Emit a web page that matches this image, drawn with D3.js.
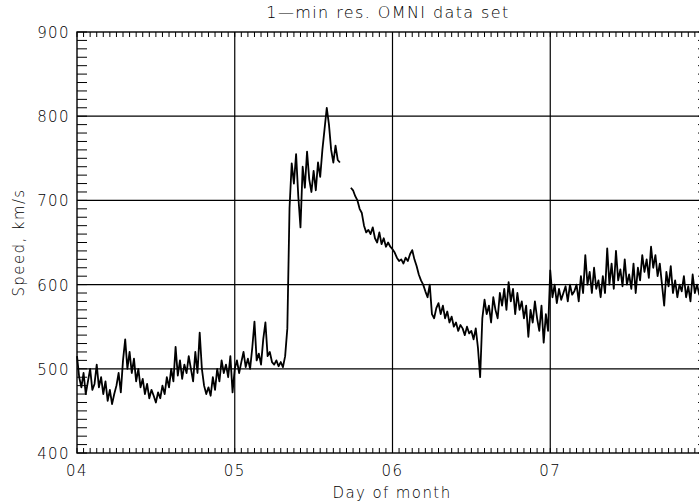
<!DOCTYPE html>
<html>
<head>
<meta charset="utf-8">
<script src="https://cdn.jsdelivr.net/npm/d3@7"></script>
<style>
  body { margin: 0; background: #fff; }
  svg { display: block; }
  text { font-family: "DejaVu Sans", sans-serif; font-weight: 300; fill: #000; letter-spacing: 1.4px; }
</style>
</head>
<body>
<div id="chart"></div>
<script>
// 1-min OMNI solar wind speed, every 20 minutes (72 samples per day)
const day04 = [
    515, 490, 478, 495, 470, 485, 500, 475, 482, 505, 478, 490,
    470, 485, 462, 475, 458, 470, 480, 495, 472, 510, 535, 500,
    520, 495, 512, 485, 500, 478, 488, 470, 482, 465, 475, 468,
    460, 472, 465, 480, 470, 490, 478, 500, 485, 526, 492, 510,
    488, 505, 495, 515, 500, 485, 520, 495, 543, 500, 480, 470,
    478, 468, 490, 475, 500, 485, 510, 495, 505, 490, 515, 472
];
const day05 = [
    500, 510, 495, 508, 520, 502, 512, 500, 525, 556, 510, 518,
    505, 535, 555, 515, 520, 508, 505, 510, 503, 508, 502, 515,
    548, 691, 744, 720, 755, 705, 668, 740, 715, 758, 725, 710,
    735, 712, 745, 728, 760, 785, 810, 790, 760, 745, 765, 748,
    745, null, null, null, null, 715, 712, 705, 700, 690, 685, 670,
    662, 665, 660, 668, 655, 650, 662, 648, 655, 645, 650, 645
];
const day06 = [
    642, 638, 632, 628, 630, 625, 632, 628, 636, 641, 630, 622,
    612, 605, 600, 592, 585, 600, 565, 560, 572, 578, 565, 575,
    560, 568, 555, 562, 550, 555, 545, 552, 548, 540, 550, 542,
    545, 535, 548, 525, 490, 560, 582, 565, 575, 555, 585, 570,
    560, 590, 575, 595, 570, 603, 580, 595, 565, 590, 570, 580,
    560, 575, 538, 570, 555, 580, 560, 545, 575, 531, 565, 545
];
const day07 = [
    617, 585, 600, 578, 595, 582, 590, 598, 580, 600, 588, 592,
    600, 580, 610, 590, 635, 600, 615, 590, 620, 595, 605, 585,
    610, 590, 643, 600, 625, 595, 640, 605, 618, 598, 630, 600,
    612, 595, 625, 590, 620, 605, 635, 615, 630, 608, 645, 620,
    635, 610, 625, 600, 575, 615, 598, 622, 590, 605, 585, 600,
    592, 610, 585, 598, 580, 612, 590, 600, 588, 595, 585, 590
];
const dayLabels = ['04', '05', '06', '07'];
const speedTicks = [400, 500, 600, 700, 800, 900];

const width = 699, height = 504;
const margin = { left: 77, top: 32, bottom: 51 };
const plotRight = 708; // the right axis (day 08) falls just outside the picture

const svg = d3.select('#chart').append('svg')
    .attr('width', width)
    .attr('height', height);

const x = d3.scaleLinear().domain([4, 8]).range([margin.left, plotRight]);
const y = d3.scaleLinear().domain([400, 900]).range([height - margin.bottom, margin.top]);

// Build the series: day number + fraction of day
const series = [];
[day04, day05, day06, day07].forEach((vals, i) => {
    vals.forEach((v, j) => series.push({ t: 4 + i + j / 72, v: v }));
});

const yTop = y(900), yBottom = y(400);

// Grid lines at major ticks
svg.selectAll('.vgrid')
    .data([5, 6, 7])
    .enter().append('line')
    .attr('x1', d => x(d)).attr('x2', d => x(d))
    .attr('y1', yTop).attr('y2', yBottom)
    .attr('stroke', '#000').attr('stroke-width', 1.2);

svg.selectAll('.hgrid')
    .data([500, 600, 700, 800])
    .enter().append('line')
    .attr('x1', x(4)).attr('x2', plotRight)
    .attr('y1', d => y(d)).attr('y2', d => y(d))
    .attr('stroke', '#000').attr('stroke-width', 1.2);

// Minor ticks: hourly on x, every 10 km/s on y
const hourTicks = d3.range(4, 8, 1 / 24);
const speedMinor = d3.range(400, 901, 10);

svg.selectAll('.xtick-b')
    .data(hourTicks)
    .enter().append('line')
    .attr('x1', d => x(d)).attr('x2', d => x(d))
    .attr('y1', yBottom).attr('y2', yBottom - 5)
    .attr('stroke', '#000').attr('stroke-width', 1);

svg.selectAll('.xtick-t')
    .data(hourTicks)
    .enter().append('line')
    .attr('x1', d => x(d)).attr('x2', d => x(d))
    .attr('y1', yTop).attr('y2', yTop + 5)
    .attr('stroke', '#000').attr('stroke-width', 1);

svg.selectAll('.ytick-l')
    .data(speedMinor)
    .enter().append('line')
    .attr('x1', x(4)).attr('x2', x(4) + 10)
    .attr('y1', d => y(d)).attr('y2', d => y(d))
    .attr('stroke', '#000').attr('stroke-width', 1);

svg.selectAll('.ytick-r')
    .data(speedMinor)
    .enter().append('line')
    .attr('x1', plotRight).attr('x2', plotRight - 10)
    .attr('y1', d => y(d)).attr('y2', d => y(d))
    .attr('stroke', '#000').attr('stroke-width', 1);

// Frame
svg.append('rect')
    .attr('x', x(4)).attr('y', yTop)
    .attr('width', plotRight - x(4)).attr('height', yBottom - yTop)
    .attr('fill', 'none').attr('stroke', '#000').attr('stroke-width', 1.4);

// Data line
const line = d3.line()
    .defined(d => d.v != null)
    .x(d => x(d.t))
    .y(d => y(d.v));

svg.append('path')
    .datum(series)
    .attr('d', line)
    .attr('fill', 'none')
    .attr('stroke', '#000')
    .attr('stroke-width', 1.8)
    .attr('stroke-linejoin', 'round');

// Tick labels
svg.selectAll('.xlabel')
    .data(dayLabels)
    .enter().append('text')
    .attr('x', (d, i) => x(4 + i))
    .attr('y', yBottom + 23)
    .attr('text-anchor', 'middle')
    .attr('font-size', '15px')
    .text(d => d);

svg.selectAll('.ylabel')
    .data(speedTicks)
    .enter().append('text')
    .attr('x', x(4) - 7)
    .attr('y', d => y(d) + 6)
    .attr('text-anchor', 'end')
    .attr('font-size', '15px')
    .text(d => d);

// Titles
svg.append('text')
    .attr('x', 388)
    .attr('y', 18)
    .attr('text-anchor', 'middle')
    .attr('font-size', '16px')
    .text('1\u2014min res. OMNI data set');

svg.append('text')
    .attr('x', 392)
    .attr('y', 498)
    .attr('text-anchor', 'middle')
    .attr('font-size', '15px')
    .text('Day of month');

svg.append('text')
    .attr('transform', `translate(24, ${(yTop + yBottom) / 2}) rotate(-90)`)
    .attr('text-anchor', 'middle')
    .attr('font-size', '15px')
    .text('Speed, km/s');
</script>
</body>
</html>
